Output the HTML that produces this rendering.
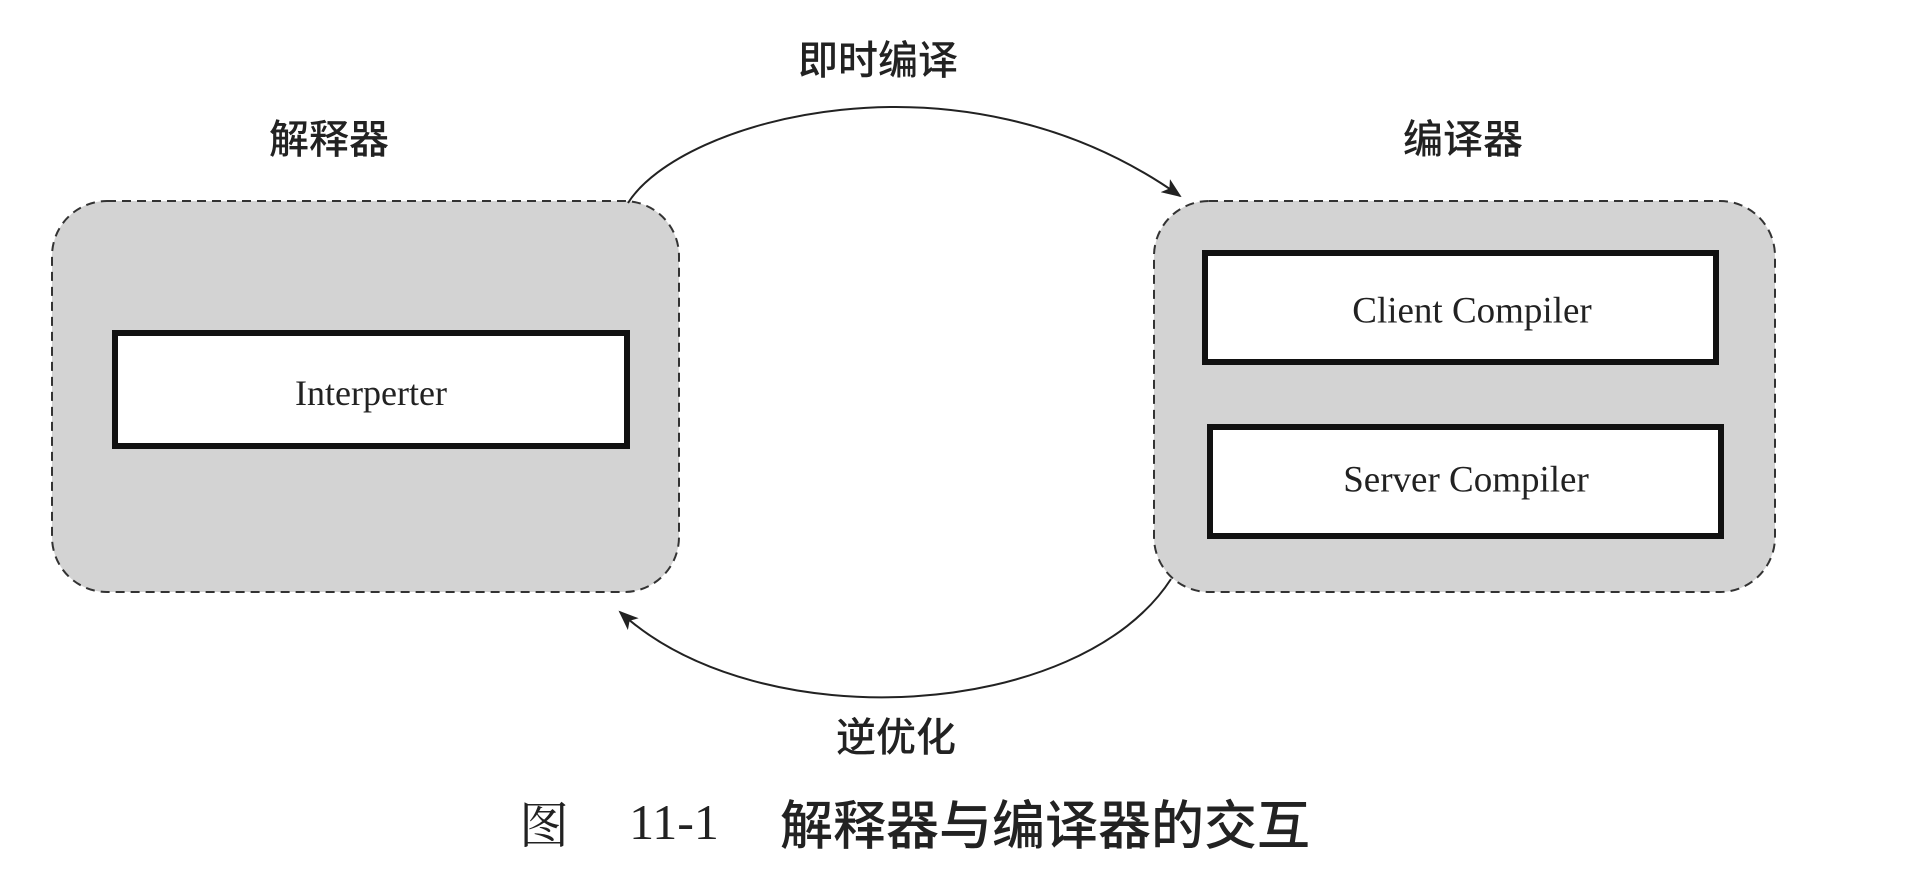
<!DOCTYPE html>
<html><head><meta charset="utf-8"><style>
html,body{margin:0;padding:0;background:#fff;width:1912px;height:874px;overflow:hidden}
.t{position:absolute;font-family:"Liberation Serif","Noto Serif CJK SC","Noto Sans CJK SC",serif;color:#222;white-space:nowrap;transform:translate(-50%,-50%)}
.c{font-family:"Liberation Sans","Noto Sans CJK SC",sans-serif;font-weight:500}
</style></head><body>
<svg width="1912" height="874" style="position:absolute;left:0;top:0">
<defs><marker id="a" markerWidth="20" markerHeight="16" refX="18" refY="8" orient="auto" markerUnits="userSpaceOnUse"><path d="M0,0 L20,8 L0,16 L5,8 Z" fill="#222"/></marker></defs>
<rect x="52" y="201" width="627" height="391" rx="55" fill="#d3d3d3" stroke="#333" stroke-width="2" stroke-dasharray="9,6"/>
<rect x="1154" y="201" width="621" height="391" rx="55" fill="#d3d3d3" stroke="#333" stroke-width="2" stroke-dasharray="9,6"/>
<rect x="115" y="333" width="512" height="113" fill="#fff" stroke="#111" stroke-width="6"/>
<rect x="1205" y="253" width="511" height="109" fill="#fff" stroke="#111" stroke-width="6"/>
<rect x="1210" y="427" width="511" height="109" fill="#fff" stroke="#111" stroke-width="6"/>
<path d="M628,203 C680,120 960,40 1180,196" fill="none" stroke="#222" stroke-width="2" marker-end="url(#a)"/>
<path d="M1171,579 C1080,720 760,740 620,612" fill="none" stroke="#222" stroke-width="2" marker-end="url(#a)"/>
</svg>
<div class="t c" style="left:329px;top:136px;font-size:40px">解释器</div>
<div class="t c" style="left:1463px;top:136px;font-size:40px">编译器</div>
<div class="t c" style="left:878px;top:57px;font-size:40px">即时编译</div>
<div class="t c" style="left:896px;top:734px;font-size:40px">逆优化</div>
<div class="t" style="left:371px;top:393px;font-size:36px">Interperter</div>
<div class="t" style="left:1472px;top:311px;font-size:37px">Client Compiler</div>
<div class="t" style="left:1466px;top:480px;font-size:37px">Server Compiler</div>
<div class="t" style="left:544px;top:822px;font-size:50px">图</div>
<div class="t" style="left:674px;top:822px;font-size:50px">11-1</div>
<div class="t" style="left:1045px;top:822px;font-size:53px;font-family:'Noto Sans CJK SC',sans-serif;font-weight:500">解释器与编译器的交互</div>
</body></html>
